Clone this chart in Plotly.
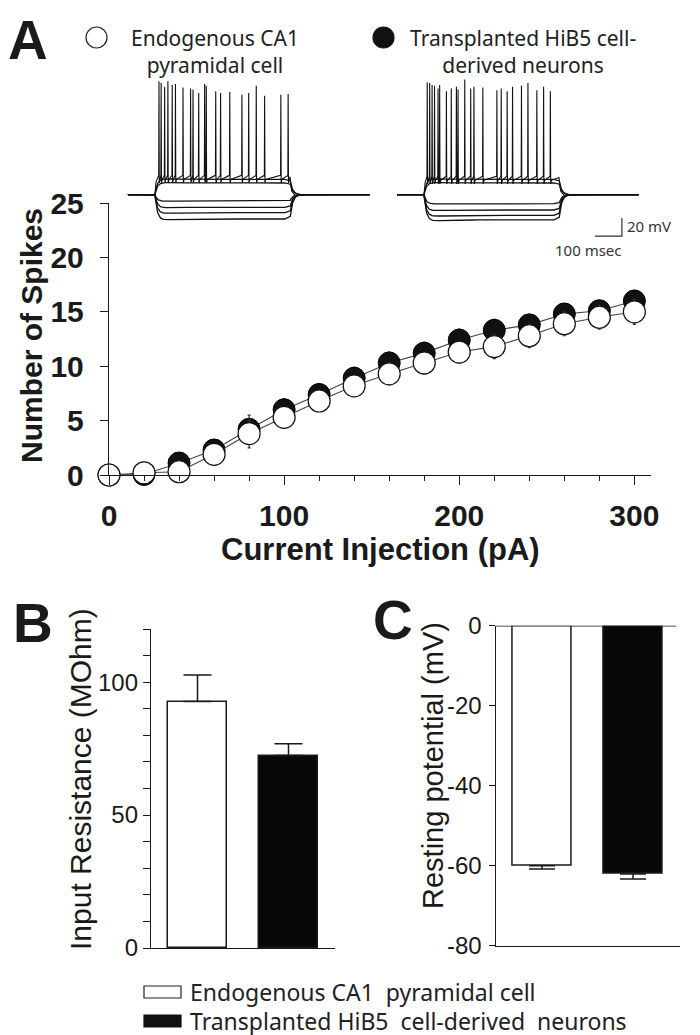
import math
import plotly.graph_objects as go

# ---------------- data ----------------
current_pA = [0, 20, 40, 60, 80, 100, 120, 140, 160, 180, 200, 220, 240, 260, 280, 300]
endogenous_spikes = [0, 0.2, 0.3, 1.9, 3.8, 5.3, 6.8, 8.2, 9.3, 10.3, 11.3, 11.8, 12.8, 13.9, 14.5, 15.0]
endogenous_sem = [0, 0, 0.2, 0.4, 1.3, 0.9, 0.9, 0.9, 1.0, 1.0, 1.0, 1.1, 1.1, 1.1, 1.1, 1.15]
transplanted_spikes = [0, 0.05, 1.1, 2.3, 4.2, 6.0, 7.4, 8.9, 10.3, 11.2, 12.4, 13.3, 13.8, 14.8, 15.1, 16.0]
transplanted_sem = [0, 0, 0.3, 0.5, 1.3, 1.0, 1.0, 1.0, 1.0, 1.0, 1.0, 1.0, 0.9, 0.9, 0.9, 0.8]

groups = ["Endogenous CA1 pyramidal cell", "Transplanted HiB5 cell-derived neurons"]
input_resistance = [92.7, 72.4]
input_resistance_sem = [10.0, 4.4]
input_resistance_ticks = [0, 50, 100]
resting_potential = [-60.0, -62.1]
resting_potential_sem = [0.8, 1.2]
resting_potential_ticks = [0, -20, -40, -60, -80]

# example voltage traces (ms / mV)
rest_mV = -60
step_on_ms, step_off_ms = 0, 500
sweep_start_ms, sweep_end_ms = -100, 795
left_hyper_levels = [-67, -74, -80, -87]
left_depol_levels = [-47, -43]
left_plateau = -40
left_spike_times = [15, 23, 36, 48, 64, 76, 104, 132, 141, 162, 184, 190, 225, 243, 277, 322, 347, 375, 406, 466, 493]
left_spike_peaks = [66, 64, 60, 66, 62, 63, 59, 58, 57, 53, 63, 61, 55, 53, 54, 51, 53, 61, 50, 51, 52]
right_hyper_levels = [-70, -77, -83, -88]
right_depol_levels = [-47, -43]
right_plateau = -41
right_spike_times = [12, 21, 30, 39, 52, 58, 83, 101, 120, 126, 151, 173, 185, 218, 270, 286, 308, 328, 361, 385, 418, 443, 468]
right_spike_peaks = [65, 64, 62, 61, 58, 62, 55, 58, 60, 57, 68, 58, 60, 59, 56, 58, 55, 60, 61, 64, 56, 60, 55]
scale_ms, scale_mV = 100, 20

# ---------------- helpers ----------------
W, H = 700, 1035


def px(x):
    return x / W


def py(y):
    return 1 - y / H


INK = "#1a1a1a"
AX_FONT = "Arial, Liberation Sans, sans-serif"
LEG_FONT = "Noto Sans, Open Sans, sans-serif"


def step_sweep(level, tau=9.0):
    ts, vs = [sweep_start_ms, step_on_ms], [rest_mV, rest_mV]
    t = 1.0
    while t <= step_off_ms:
        sag = 0.08 * (level - rest_mV) * math.exp(-t / 60.0) * (1 - math.exp(-t / 8.0))
        ts.append(t)
        vs.append(rest_mV + (level - rest_mV) * (1 - math.exp(-t / tau)) + sag)
        t += 2.0 if t < 60 else 20.0
    v_end = vs[-1]
    t = 1.0
    while t <= 200:
        ts.append(step_off_ms + t)
        vs.append(rest_mV + (v_end - rest_mV) * math.exp(-t / tau))
        t += 2.0 if t < 60 else 20.0
    ts.append(sweep_end_ms)
    vs.append(rest_mV)
    return ts, vs


def spike_sweep(plateau, times, peaks):
    ts, vs = [sweep_start_ms, step_on_ms, 4, 10], [rest_mV, rest_mV, plateau - 6, plateau]
    for tt, pk in zip(times, peaks):
        ts += [tt - 1.0, tt, tt + 1.2, tt + 4.0]
        vs += [plateau + 1.5, pk, plateau - 7, plateau - 3]
    ts += [step_off_ms, step_off_ms + 6, step_off_ms + 20, step_off_ms + 60, sweep_end_ms]
    vs += [plateau, rest_mV + 4, rest_mV - 1, rest_mV, rest_mV]
    return ts, vs


fig = go.Figure()

# ---------------- example traces ----------------
for xa, ya, hyp, dep, plat, st, sp in [
    ("x2", "y2", left_hyper_levels, left_depol_levels, left_plateau, left_spike_times, left_spike_peaks),
    ("x3", "y3", right_hyper_levels, right_depol_levels, right_plateau, right_spike_times, right_spike_peaks),
]:
    for lv in hyp + dep:
        tx, vy = step_sweep(lv)
        fig.add_trace(go.Scatter(x=tx, y=vy, mode="lines", line=dict(color="#111", width=1.3),
                                 xaxis=xa, yaxis=ya, showlegend=False, hoverinfo="skip"))
    tx, vy = spike_sweep(plat, st, sp)
    fig.add_trace(go.Scatter(x=tx, y=vy, mode="lines", line=dict(color="#111", width=1.1),
                             xaxis=xa, yaxis=ya, showlegend=False, hoverinfo="skip"))

# scale bar (right inset axes)
sb_x0 = 633
sb_y0 = -106
fig.add_trace(go.Scatter(x=[sb_x0, sb_x0 + scale_ms, sb_x0 + scale_ms],
                         y=[sb_y0, sb_y0, sb_y0 + scale_mV], mode="lines",
                         line=dict(color="#333", width=1.2), xaxis="x3", yaxis="y3",
                         showlegend=False, hoverinfo="skip"))

# ---------------- F-I curve ----------------
fig.add_trace(go.Scatter(
    x=current_pA, y=transplanted_spikes, name=groups[1], mode="lines+markers",
    line=dict(color="#444", width=1.1),
    marker=dict(size=22, color="#111", line=dict(color="#000", width=1)),
    error_y=dict(type="data", array=transplanted_sem, color="#333", thickness=1.2, width=1.5),
    cliponaxis=False, showlegend=False, xaxis="x", yaxis="y"))
fig.add_trace(go.Scatter(
    x=current_pA, y=endogenous_spikes, name=groups[0], mode="lines+markers",
    line=dict(color="#444", width=1.1),
    marker=dict(size=22, color="white", line=dict(color="#111", width=1.2)),
    error_y=dict(type="data", array=endogenous_sem, color="#333", thickness=1.2, width=1.5),
    cliponaxis=False, showlegend=False, xaxis="x", yaxis="y"))

# ---------------- bars ----------------
fig.add_trace(go.Bar(
    x=groups, y=input_resistance, width=0.65,
    marker=dict(color=["white", "#070707"], line=dict(color=INK, width=1.5)),
    error_y=dict(type="data", symmetric=False, array=input_resistance_sem, arrayminus=[0, 0],
                 color=INK, thickness=1.5, width=14),
    xaxis="x4", yaxis="y4", showlegend=False))
fig.add_trace(go.Bar(
    x=groups, y=resting_potential, width=0.65,
    marker=dict(color=["white", "#070707"], line=dict(color=INK, width=1.5)),
    error_y=dict(type="data", symmetric=False, array=[0, 0], arrayminus=resting_potential_sem,
                 color=INK, thickness=1.5, width=13),
    xaxis="x5", yaxis="y5", showlegend=False))

axline = dict(showline=True, linecolor=INK, linewidth=1.4, showgrid=False, zeroline=False,
              ticks="outside", tickcolor=INK, tickwidth=1.4, automargin=False)
bold_tick = dict(family=AX_FONT, size=30, color=INK, weight="bold")
hidden = dict(visible=False, showgrid=False, zeroline=False, automargin=False)

fig.update_layout(
    width=W, height=H, margin=dict(l=0, r=0, t=0, b=0),
    paper_bgcolor="white", plot_bgcolor="rgba(0,0,0,0)",
    bargap=0,
    xaxis=dict(domain=[px(101), px(643)], range=[0, 309.5], anchor="y",
               tickvals=[0, 100, 200, 300], ticklen=9, tickfont=bold_tick, ticklabelstandoff=5,
               minor=dict(tickvals=current_pA, ticklen=5, ticks="outside", tickcolor=INK, tickwidth=1.2),
               **axline),
    yaxis=dict(domain=[py(467), py(195)], range=[0, 25], anchor="x",
               tickvals=[0, 5, 10, 15, 20, 25], ticklen=8, tickfont=bold_tick, ticklabelstandoff=10,
               **axline),
    xaxis2=dict(domain=[px(118), px(365)], range=[-107, 807], anchor="y2", **hidden),
    yaxis2=dict(domain=[py(235), py(60)], range=[-113.7, 80.8], anchor="x2", **hidden),
    xaxis3=dict(domain=[px(388), px(650)], range=[-103.7, 866.7], anchor="y3", **hidden),
    yaxis3=dict(domain=[py(235), py(60)], range=[-113.7, 80.8], anchor="x3", **hidden),
    xaxis4=dict(domain=[px(143), px(327)], range=[-0.511, 1.511], anchor="y4", type="category",
                showline=True, linecolor=INK, linewidth=1.4, showticklabels=False, ticks="",
                showgrid=False, zeroline=False, automargin=False),
    yaxis4=dict(domain=[py(940), py(621)], range=[0, 120], anchor="x4",
                tickvals=input_resistance_ticks, ticktext=[str(v) for v in input_resistance_ticks],
                ticklen=7,
                minor=dict(tickvals=list(range(0, 121, 10)), ticklen=7, ticks="outside",
                           tickcolor=INK, tickwidth=1.2),
                tickfont=dict(family=AX_FONT, size=24, color=INK), **axline),
    xaxis5=dict(domain=[px(487.7), px(671.7)], range=[-0.509, 1.513], anchor="y5", type="category",
                showline=True, linecolor=INK, linewidth=1.4, showticklabels=False, ticks="",
                showgrid=False, zeroline=False, automargin=False),
    yaxis5=dict(domain=[py(937.7), py(617.7)], range=[-80, 0], anchor="x5",
                tickvals=resting_potential_ticks, ticktext=[str(int(v)) for v in resting_potential_ticks],
                ticklen=6, ticklabelstandoff=2,
                tickfont=dict(family=AX_FONT, size=24, color=INK), **axline),
)

# zero line on top of panel C
fig.add_shape(type="line", xref="x5 domain", yref="y5", x0=0, x1=0.98, y0=0, y1=0,
              line=dict(color=INK, width=1.4))

ann = []


def text(x, y, s, size, xanchor="center", yanchor="middle", angle=0, bold=False, family=AX_FONT, color=INK):
    ann.append(dict(x=px(x), y=py(y), xref="paper", yref="paper", text=s, showarrow=False,
                    xanchor=xanchor, yanchor=yanchor, textangle=angle,
                    font=dict(family=family, size=size, color=color, weight="bold" if bold else "normal")))


# panel letters
text(-2, 32, "A", 55, xanchor="left", bold=True)
text(3, 615, "B", 55, xanchor="left", bold=True)
text(363, 612, "C", 55, xanchor="left", bold=True)

# axis titles
text(23, 328, "Number of Spikes", 30, angle=-90, bold=True)
text(372, 541, "Current Injection (pA)", 31, bold=True)
text(72, 771, "Input Resistance (MOhm)", 30, angle=-90)
text(425, 757, "Resting potential (mV)", 29, angle=-90)

# scale bar labels
text(617, 218, "20 mV", 15, xanchor="left", family=LEG_FONT, color="#333")
text(580, 242, "100 msec", 15, family=LEG_FONT, color="#333")

# top legend
fig.add_shape(type="circle", xref="paper", yref="paper", x0=px(78), x1=px(99), y0=py(40), y1=py(19),
              line=dict(color="#222", width=1.2), fillcolor="white")
fig.add_shape(type="circle", xref="paper", yref="paper", x0=px(365), x1=px(386), y0=py(40), y1=py(19),
              line=dict(color="#111", width=1.2), fillcolor="#111")
text(121, 43, "Endogenous CA1<br>pyramidal cell", 21, xanchor="left", family=LEG_FONT, color="#222")
text(400, 43, "Transplanted HiB5 cell-<br>derived neurons", 21, xanchor="left", family=LEG_FONT, color="#222")

# bottom legend
fig.add_shape(type="rect", xref="paper", yref="paper", x0=px(136), x1=px(173), y0=py(990), y1=py(978),
              line=dict(color="#222", width=1.2), fillcolor="white")
fig.add_shape(type="rect", xref="paper", yref="paper", x0=px(136), x1=px(173), y0=py(1019), y1=py(1007),
              line=dict(color="#111", width=1.2), fillcolor="#111")
text(180, 984, "Endogenous CA1\u00a0 pyramidal cell", 23, xanchor="left", family=LEG_FONT, color="#222")
text(180, 1013, "Transplanted HiB5\u00a0 cell-derived\u00a0 neurons", 23, xanchor="left", family=LEG_FONT, color="#222")

fig.update_layout(annotations=ann)
fig.write_html("out.html")
